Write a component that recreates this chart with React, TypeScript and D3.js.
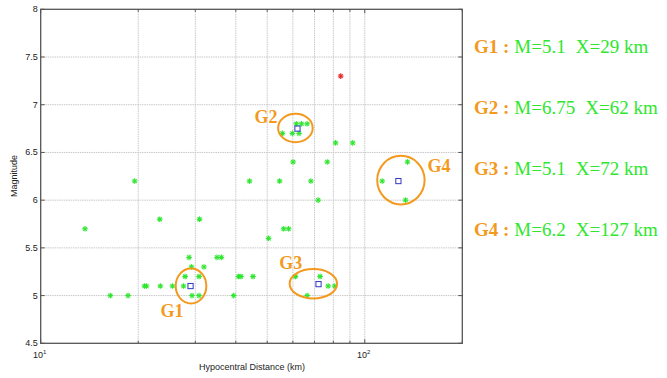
import React from 'react';
import * as d3 from 'd3';

// events: hypocentral distance (km) and magnitude
const distances = [19.5, 13.7, 23.3, 30.9, 16.4, 18.6, 20.9, 21.2, 23.4, 25.5, 27.6, 27.9, 28.7, 29.2, 30.8, 31.9, 29.3, 30.8, 35.0, 36.1,
  50.5, 56.2, 58.2, 71.8, 40.8, 41.5, 45.2, 39.4, 61.1, 72.8, 77.1, 80.8, 66.4,
  61.5, 63.8, 66.4, 55.7, 59.8, 62.7, 81.3, 91.8, 60.1, 76.6, 44.1, 54.6, 68.2, 113.2, 135.5, 133.6];
const magnitudes = [6.2, 5.7, 5.8, 5.8, 5.0, 5.0, 5.1, 5.1, 5.1, 5.1, 5.1, 5.2, 5.4, 5.3, 5.2, 5.3, 5.0, 5.0, 5.4, 5.4,
  5.6, 5.7, 5.7, 6.0, 5.2, 5.2, 5.2, 5.0, 5.2, 5.2, 5.1, 5.1, 5.0,
  6.8, 6.8, 6.8, 6.7, 6.7, 6.7, 6.6, 6.6, 6.4, 6.4, 6.2, 6.2, 6.2, 6.2, 6.4, 6.0];

const outlierDistance = [84.3];
const outlierMagnitude = [7.3];

// group centroids
const groupNames = ['G1', 'G2', 'G3', 'G4'];
const groupM = [5.1, 6.75, 5.12, 6.2];
const groupX = [29, 62, 72, 127];
const groupMText = ['5.1', '6.75', '5.1', '6.2'];
const groupXText = ['29', '62', '72', '127'];
// ellipse centres in data space
const ellipseX = [29.1, 61.1, 69.4, 129.3];
const ellipseM = [5.1, 6.756, 5.124, 6.21];

const yTicks = [4.5, 5, 5.5, 6, 6.5, 7, 7.5, 8];
const xMinor = [20, 30, 40, 50, 60, 70, 80, 90, 200];
const xGrid = [20, 30, 40, 50, 60, 70, 80, 90, 100];

const W = 667, H = 378;
const left = 40.7, right = 462.3, top = 9.3, bottom = 343.3;

const ellipseR = [[15.3, 17.5], [17.3, 14.2], [23.7, 14.7], [23.7, 24.3]];
const labelOff = [[-19, 31], [-29.5, -5], [-22.7, -14.7], [38, -8]];

const ORANGE = '#f39a1e';
const GREEN = '#2ee62e';

function Star({ x, y, color }: { x: number; y: number; color: string }) {
  const r = 2.8, d = 2;
  return (
    <g stroke={color} strokeWidth={1.1}>
      <line x1={x - r} y1={y} x2={x + r} y2={y} />
      <line x1={x} y1={y - r} x2={x} y2={y + r} />
      <line x1={x - d} y1={y - d} x2={x + d} y2={y + d} />
      <line x1={x - d} y1={y + d} x2={x + d} y2={y - d} />
    </g>
  );
}

export default function App() {
  const x = d3.scaleLog().domain([10, 200]).range([left, right]);
  const y = d3.scaleLinear().domain([4.5, 8]).range([bottom, top]);
  const axisColor = '#555';
  const sans = 'Liberation Sans, Arial, sans-serif';
  const serif = 'Liberation Serif, Times New Roman, serif';

  return (
    <svg width={W} height={H} style={{ position: 'absolute', left: 0, top: 0, background: '#fff' }}>
      {/* grid */}
      {xGrid.map(v => (
        <line key={'gx' + v} x1={x(v)} x2={x(v)} y1={top} y2={bottom} stroke="#c8c8c8" strokeWidth={1} strokeDasharray="1.5,0.8" />
      ))}
      {yTicks.slice(1, -1).map(v => (
        <line key={'gy' + v} x1={left} x2={right} y1={y(v)} y2={y(v)} stroke="#c8c8c8" strokeWidth={1} strokeDasharray="1.5,0.8" />
      ))}

      {/* box */}
      <rect x={left} y={top} width={right - left} height={bottom - top} fill="none" stroke={axisColor} strokeWidth={1.3} />

      {/* y ticks */}
      {yTicks.map(v => (
        <g key={'yt' + v}>
          <line x1={left} x2={left + 4} y1={y(v)} y2={y(v)} stroke={axisColor} />
          <line x1={right} x2={right - 4} y1={y(v)} y2={y(v)} stroke={axisColor} />
          <text x={left - 3} y={y(v) + 3} textAnchor="end" fontSize={9} fontFamily={sans} fill="#222">{v}</text>
        </g>
      ))}

      {/* x ticks */}
      {[10, 100].map(v => (
        <g key={'xt' + v}>
          <line x1={x(v)} x2={x(v)} y1={bottom} y2={bottom - 4} stroke={axisColor} />
          <line x1={x(v)} x2={x(v)} y1={top} y2={top + 4} stroke={axisColor} />
          <text x={x(v) - 1} y={bottom + 15} textAnchor="middle" fontSize={9} fontFamily={sans} fill="#222">
            10<tspan fontSize={6} dy={-4}>{v === 10 ? 1 : 2}</tspan>
          </text>
        </g>
      ))}
      {xMinor.map(v => (
        <g key={'xm' + v}>
          <line x1={x(v)} x2={x(v)} y1={bottom} y2={bottom - 2.5} stroke={axisColor} />
          <line x1={x(v)} x2={x(v)} y1={top} y2={top + 2.5} stroke={axisColor} />
        </g>
      ))}

      {/* axis titles */}
      <text x={252} y={370} textAnchor="middle" fontSize={9} fontFamily={sans} fill="#222">Hypocentral Distance (km)</text>
      <text transform={`translate(17,176) rotate(-90)`} textAnchor="middle" fontSize={9} fontFamily={sans} fill="#222">Magnitude</text>

      {/* events */}
      {distances.map((d, i) => (
        <Star key={'p' + i} x={x(d)} y={y(magnitudes[i])} color={GREEN} />
      ))}
      {outlierDistance.map((d, i) => (
        <Star key={'o' + i} x={x(d)} y={y(outlierMagnitude[i])} color="#e82424" />
      ))}

      {/* centroids */}
      {groupX.map((d, i) => (
        <rect key={'c' + i} x={x(d) - 2.6} y={y(groupM[i]) - 2.6} width={5.2} height={5.2} fill="none" stroke="#3535c8" strokeWidth={1} />
      ))}

      {/* group ellipses and labels */}
      {ellipseX.map((d, i) => (
        <g key={'e' + i}>
          <ellipse cx={x(d)} cy={y(ellipseM[i])} rx={ellipseR[i][0]} ry={ellipseR[i][1]} fill="none" stroke={ORANGE} strokeWidth={2} />
          <text x={x(d) + labelOff[i][0]} y={y(ellipseM[i]) + labelOff[i][1]} textAnchor="middle" fontSize={18} fontWeight="bold" fontFamily={serif} fill={ORANGE}>
            {groupNames[i]}
          </text>
        </g>
      ))}

      {/* summary text */}
      {groupNames.map((g, i) => (
        <text key={'s' + g} x={474} y={53.3 + i * 60.9} fontSize={19} fontFamily={serif} fill={GREEN}>
          <tspan fill={ORANGE} fontWeight="bold">{g} :</tspan>
          <tspan dx={5}>M={groupMText[i]}</tspan>
          <tspan dx={10}>X={groupXText[i]} km</tspan>
        </text>
      ))}
    </svg>
  );
}
